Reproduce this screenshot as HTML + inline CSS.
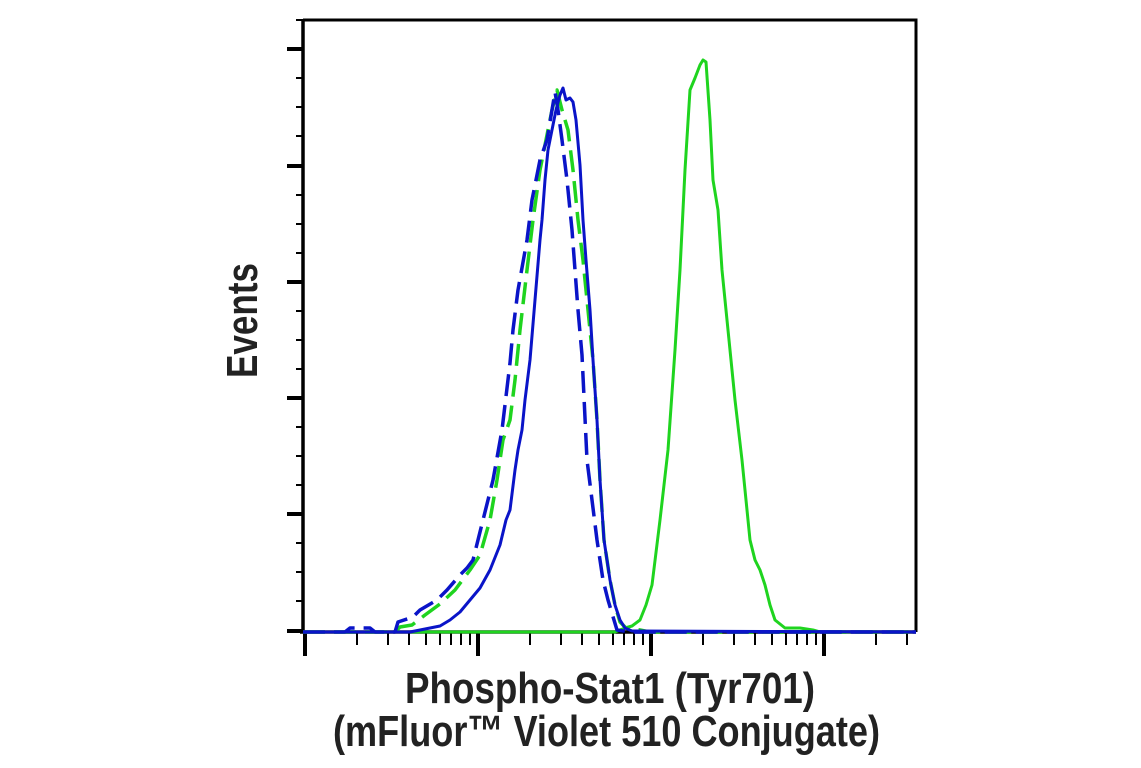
<!DOCTYPE html>
<html><head><meta charset="utf-8"><style>html,body{margin:0;padding:0;background:#fff}svg{display:block}</style></head><body>
<svg width="1141" height="768" viewBox="0 0 1141 768" xmlns="http://www.w3.org/2000/svg">
<rect width="1141" height="768" fill="#fff"/>
<g stroke="#000" fill="none">
<path d="M303 20 H916 V632" stroke-width="3"/>
<path d="M303 19 V633" stroke-width="3.5"/>
<path d="M300 632 H916" stroke-width="3.5"/>
<path d="M287 49H303M287 166H303M287 282H303M287 398H303M287 514H303M287 631H303" stroke-width="4"/>
<path d="M296 78H303M296 107H303M296 136H303M296 195H303M296 224H303M296 253H303M296 311H303M296 340H303M296 369H303M296 427H303M296 456H303M296 485H303M296 543H303M296 572H303M296 601H303M296 20H303" stroke-width="2"/>
<path d="M305 632V656M478 632V656M651 632V656M824 632V656" stroke-width="4"/>
<path d="M357 632V645M388 632V645M409 632V645M426 632V645M440 632V645M451 632V645M461 632V645M470 632V645
M530 632V645M561 632V645M582 632V645M599 632V645M613 632V645M624 632V645M634 632V645M643 632V645
M703 632V645M734 632V645M755 632V645M772 632V645M786 632V645M797 632V645M807 632V645M816 632V645
M876 632V645M907 632V645" stroke-width="2"/>
</g>
<g fill="none" stroke-width="3" stroke-linejoin="round">
<path stroke="#1fd41f" d="M303 632 L615 632 L625 628 L632 626 L640 620 L646 605 L652 585 L660 520 L668 450 L675 350 L680 270 L685 170 L690 90 L695 78 L700 65 L703 60 L706 62 L710 120 L713 180 L718 210 L722 270 L728 330 L735 400 L742 460 L750 540 L755 560 L760 570 L765 585 L770 605 L775 620 L785 628 L800 628 L813 630 L820 632 L916 632"/>
<path stroke="#1fd41f" stroke-width="3.5" stroke-dasharray="22,9" d="M303 632 L395 632 L400 627 L412 625 L425 615 L440 604 L455 590 L470 570 L480 555 L490 520 L497 480 L503 440 L510 420 L515 380 L520 330 L527 270 L533 220 L540 170 L546 140 L552 110 L557 90 L562 110 L568 130 L573 170 L578 220 L583 260 L588 310 L593 360 L597 420 L600 480 L604 540 L610 580 L615 605 L620 622 L626 628 L640 630 L650 632 L916 632"/>
<path stroke="#0a14c8" stroke-width="3.5" stroke-dasharray="22,9" d="M303 632 L345 632 L350 628 L370 628 L375 632 L395 632 L398 622 L413 617 L420 610 L437 600 L447 590 L460 575 L467 568 L473 560 L483 520 L493 480 L502 430 L510 363 L513 330 L518 290 L527 240 L532 200 L540 160 L547 140 L552 110 L555 92 L558 110 L562 140 L567 180 L572 230 L578 310 L582 355 L587 460 L597 540 L603 580 L608 600 L617 630 L630 632 L916 632"/>
<path stroke="#0a14c8" d="M303 632 L410 632 L420 630 L430 628 L440 626 L450 620 L460 612 L470 600 L480 588 L490 570 L500 545 L506 520 L510 510 L515 470 L518 450 L522 430 L525 400 L530 360 L535 300 L540 240 L542 220 L545 180 L548 150 L552 130 L556 110 L560 95 L563 88 L566 100 L570 98 L573 102 L576 120 L580 165 L583 220 L586 260 L590 310 L593 360 L597 420 L600 480 L604 540 L610 580 L615 605 L620 620 L625 628 L632 631 L916 632"/>
</g>
<g font-family="'Liberation Sans Narrow','Liberation Sans',sans-serif" font-weight="bold" fill="#222" font-size="44">
<text x="405" y="703" textLength="410" lengthAdjust="spacingAndGlyphs">Phospho-Stat1 (Tyr701)</text>
<text x="333" y="746" textLength="547" lengthAdjust="spacingAndGlyphs">(mFluor™ Violet 510 Conjugate)</text>
<text transform="translate(257,378) rotate(-90)" x="0" y="0" textLength="115" lengthAdjust="spacingAndGlyphs">Events</text>
</g>
</svg>
</body></html>
